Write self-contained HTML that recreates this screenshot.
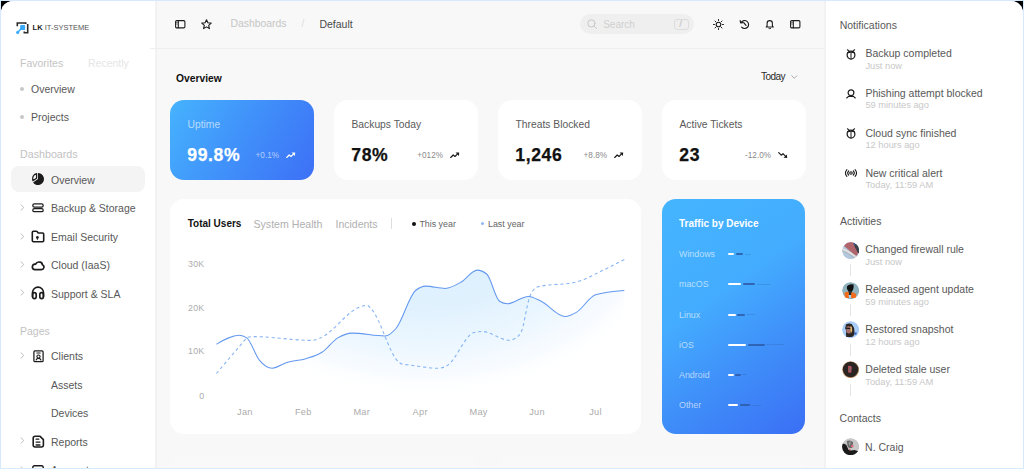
<!DOCTYPE html>
<html><head><meta charset="utf-8"><style>
html,body{margin:0;padding:0;width:1024px;height:469px;overflow:hidden;background:#d5eafc;}
body{position:relative;font-family:"Liberation Sans",sans-serif;}
#frame{position:absolute;left:1px;top:1px;width:1022px;height:467px;background:#000;overflow:hidden;}
#page{position:absolute;left:0;top:0;width:1022px;height:467px;background:#fff;border-radius:12px 12px 0 0;overflow:hidden;}
.t{position:absolute;white-space:nowrap;}
.i{position:absolute;overflow:visible;}
.card{position:absolute;border-radius:14px;background:#fff;}
</style></head><body>
<div id="frame"><div id="page">
<div style="position:absolute;left:-1px;top:-1px;width:1024px;height:469px;">
<div style="position:absolute;left:0;top:0;width:155px;height:469px;background:#fff;"></div>
<div style="position:absolute;left:155px;top:0;width:670px;height:469px;background:#f8f8f8;border-left:2px solid #f2f2f2;box-sizing:border-box;"></div>
<div style="position:absolute;left:150px;top:48px;width:675px;height:1px;background:#eeeeee;"></div>
<div style="position:absolute;left:823.5px;top:0;width:200.5px;height:469px;background:#fff;border-left:2px solid #f2f2f2;box-sizing:border-box;"></div>
<svg class="i" style="left:16px;top:22px;" width="13" height="12" viewBox="0 0 13 12" fill="none" stroke="#1c1c1c" stroke-width="1.2" stroke-linecap="round" stroke-linejoin="round"><path d="M1.3,4.2 V1 H9.7 V2" stroke="#2b2b2b" stroke-width="1.6" stroke-linecap="butt" stroke-linejoin="miter"/><path d="M11.7,2 V10.8 H8.3 V9.6" stroke="#2b2b2b" stroke-width="1.6" stroke-linecap="butt" stroke-linejoin="miter"/><rect x="4.2" y="3" width="4.9" height="4.9" rx="0.7" fill="#3aa8fb" stroke="none"/><path d="M1.7,10.4 L5.2,6.6" stroke="#3aa8fb" stroke-width="1.5"/><circle cx="1.7" cy="10.4" r="1.55" fill="#3aa8fb" stroke="none"/></svg>
<div class="t" style="left:32.6px;top:23.0px;font-size:7.5px;line-height:10px;color:#555;font-weight:400;"><b style="color:#222">LK</b> IT-SYSTEME</div>
<div class="t" style="left:20px;top:56.0px;font-size:10.5px;line-height:14px;color:#c4c4c4;font-weight:400;">Favorites</div>
<div class="t" style="left:88px;top:56.0px;font-size:10.5px;line-height:14px;color:#e6e6e6;font-weight:400;">Recently</div>
<div style="position:absolute;left:20px;top:86.5px;width:4px;height:4px;border-radius:50%;background:#c8c8c8"></div>
<div class="t" style="left:31px;top:81.6px;font-size:10.5px;line-height:14px;color:#585858;font-weight:400;">Overview</div>
<div style="position:absolute;left:20px;top:115px;width:4px;height:4px;border-radius:50%;background:#c8c8c8"></div>
<div class="t" style="left:31px;top:110.0px;font-size:10.5px;line-height:14px;color:#585858;font-weight:400;">Projects</div>
<div class="t" style="left:20px;top:147.0px;font-size:10.7px;line-height:14px;color:#c2c2c2;font-weight:400;">Dashboards</div>
<div style="position:absolute;left:11px;top:166.3px;width:134px;height:25.8px;border-radius:8px;background:#f4f4f4"></div>
<svg class="i" style="left:32px;top:173.3px;" width="12" height="12" viewBox="0 0 12 12" fill="none" stroke="#1c1c1c" stroke-width="1.2" stroke-linecap="round" stroke-linejoin="round"><path d="M6,6 L6,0 A6,6 0 1 1 1.1,9.45 Z" fill="#1c1c1c" stroke="none"/><path d="M4.6,5.2 L0.9,7.6 A5.3,5.3 0 0 1 4.6,0.6 Z" fill="#f4f4f4" stroke="#1c1c1c" stroke-width="1.3"/></svg>
<div class="t" style="left:51px;top:172.5px;font-size:10.5px;line-height:14px;color:#585858;font-weight:400;">Overview</div>
<svg class="i" style="left:20px;top:203.9px;" width="5" height="7" viewBox="0 0 5 7" fill="none" stroke="#1c1c1c" stroke-width="1.2" stroke-linecap="round" stroke-linejoin="round"><path d="M1,0.8 L3.8,3.5 L1,6.2" stroke="#bababa" stroke-width="0.95"/></svg>
<svg class="i" style="left:32px;top:203.2px;" width="12" height="10" viewBox="0 0 12 10" fill="none" stroke="#1c1c1c" stroke-width="1.2" stroke-linecap="round" stroke-linejoin="round"><rect x="0.8" y="0.9" width="10.4" height="3.1" rx="1.55" stroke-width="1.25"/><rect x="0.8" y="5.6" width="10.4" height="3.1" rx="1.55" stroke-width="1.25"/></svg>
<div class="t" style="left:51px;top:201.2px;font-size:10.5px;line-height:14px;color:#585858;font-weight:400;">Backup &amp; Storage</div>
<svg class="i" style="left:20px;top:232.9px;" width="5" height="7" viewBox="0 0 5 7" fill="none" stroke="#1c1c1c" stroke-width="1.2" stroke-linecap="round" stroke-linejoin="round"><path d="M1,0.8 L3.8,3.5 L1,6.2" stroke="#bababa" stroke-width="0.95"/></svg>
<svg class="i" style="left:31px;top:229.5px;" width="14" height="12.5" viewBox="0 0 14 12.5" fill="none" stroke="#1c1c1c" stroke-width="1.2" stroke-linecap="round" stroke-linejoin="round"><path d="M1.3,2.4 Q1.3,1.2 2.5,1.2 H5.2 Q5.8,1.2 6.3,1.8 L7.2,3 H11.6 Q12.7,3 12.7,4.1 V10.6 Q12.7,11.7 11.6,11.7 H2.4 Q1.3,11.7 1.3,10.6 Z" stroke-width="1.6"/><circle cx="6.4" cy="7.4" r="1.35" fill="#1c1c1c" stroke="none"/><path d="M6.4,7.6 V9.3" stroke-width="1.1"/></svg>
<div class="t" style="left:51px;top:230.0px;font-size:10.5px;line-height:14px;color:#585858;font-weight:400;">Email Security</div>
<svg class="i" style="left:20px;top:260.9px;" width="5" height="7" viewBox="0 0 5 7" fill="none" stroke="#1c1c1c" stroke-width="1.2" stroke-linecap="round" stroke-linejoin="round"><path d="M1,0.8 L3.8,3.5 L1,6.2" stroke="#bababa" stroke-width="0.95"/></svg>
<svg class="i" style="left:31px;top:258.6px;" width="14" height="11.8" viewBox="0 0 14 11.8" fill="none" stroke="#1c1c1c" stroke-width="1.2" stroke-linecap="round" stroke-linejoin="round"><path d="M3.6,10.6 H10.4 A2.5,2.5 0 0 0 11.4,5.8 A3.6,3.6 0 0 0 4.6,5.2 A2.7,2.7 0 0 0 3.6,10.6 Z" stroke-width="1.65"/><path d="M8.8,3.2 A1.6,1.6 0 0 1 11.2,4.6" stroke-width="1.1"/></svg>
<div class="t" style="left:51px;top:258.0px;font-size:10.5px;line-height:14px;color:#585858;font-weight:400;">Cloud (IaaS)</div>
<svg class="i" style="left:20px;top:289.4px;" width="5" height="7" viewBox="0 0 5 7" fill="none" stroke="#1c1c1c" stroke-width="1.2" stroke-linecap="round" stroke-linejoin="round"><path d="M1,0.8 L3.8,3.5 L1,6.2" stroke="#bababa" stroke-width="0.95"/></svg>
<svg class="i" style="left:31px;top:286.3px;" width="14" height="13.5" viewBox="0 0 14 13.5" fill="none" stroke="#1c1c1c" stroke-width="1.2" stroke-linecap="round" stroke-linejoin="round"><path d="M1.5,10.5 V6.6 A5.5,5.5 0 0 1 12.5,6.6 V10.5" stroke-width="1.65"/><rect x="1.6" y="6.6" width="3.6" height="6" rx="1.8" stroke-width="1.65"/><rect x="8.8" y="6.6" width="3.6" height="6" rx="1.8" stroke-width="1.65"/></svg>
<div class="t" style="left:51px;top:286.5px;font-size:10.5px;line-height:14px;color:#585858;font-weight:400;">Support &amp; SLA</div>
<div class="t" style="left:20px;top:324.0px;font-size:10.5px;line-height:14px;color:#c2c2c2;font-weight:400;">Pages</div>
<svg class="i" style="left:20px;top:351.9px;" width="5" height="7" viewBox="0 0 5 7" fill="none" stroke="#1c1c1c" stroke-width="1.2" stroke-linecap="round" stroke-linejoin="round"><path d="M1,0.8 L3.8,3.5 L1,6.2" stroke="#bababa" stroke-width="0.95"/></svg>
<svg class="i" style="left:32.5px;top:349.5px;" width="11" height="12.5" viewBox="0 0 11 12.5" fill="none" stroke="#1c1c1c" stroke-width="1.2" stroke-linecap="round" stroke-linejoin="round"><rect x="0.9" y="0.9" width="9.2" height="10.8" rx="1" stroke-width="1.25"/><circle cx="5.5" cy="6.6" r="1.6" stroke-width="1.1"/><path d="M3.1,10 Q3.6,8.4 5.5,8.4 Q7.4,8.4 7.9,10" stroke-width="1.1"/><path d="M3.8,3 H7.2" stroke-width="1.1"/></svg>
<div class="t" style="left:51px;top:349.0px;font-size:10.5px;line-height:14px;color:#585858;font-weight:400;">Clients</div>
<div class="t" style="left:51px;top:377.5px;font-size:10.5px;line-height:14px;color:#585858;font-weight:400;">Assets</div>
<div class="t" style="left:51px;top:406.0px;font-size:10.5px;line-height:14px;color:#585858;font-weight:400;">Devices</div>
<svg class="i" style="left:20px;top:437.4px;" width="5" height="7" viewBox="0 0 5 7" fill="none" stroke="#1c1c1c" stroke-width="1.2" stroke-linecap="round" stroke-linejoin="round"><path d="M1,0.8 L3.8,3.5 L1,6.2" stroke="#bababa" stroke-width="0.95"/></svg>
<svg class="i" style="left:31.8px;top:434.6px;" width="12.6" height="13.2" viewBox="0 0 12.6 13.2" fill="none" stroke="#1c1c1c" stroke-width="1.2" stroke-linecap="round" stroke-linejoin="round"><path d="M1.2,3.2 Q1.2,1.2 3.2,1.2 H7.8 L11.4,4.6 V10 Q11.4,12 9.4,12 H3.2 Q1.2,12 1.2,10 Z" stroke-width="1.6"/><path d="M4.1,4.2 H6.8 M4.1,7.1 H8 M4.1,10 H8" stroke-width="1.3"/></svg>
<div class="t" style="left:51px;top:434.5px;font-size:10.5px;line-height:14px;color:#585858;font-weight:400;">Reports</div>
<svg class="i" style="left:20px;top:465.9px;" width="5" height="7" viewBox="0 0 5 7" fill="none" stroke="#1c1c1c" stroke-width="1.2" stroke-linecap="round" stroke-linejoin="round"><path d="M1,0.8 L3.8,3.5 L1,6.2" stroke="#bababa" stroke-width="0.95"/></svg>
<svg class="i" style="left:32px;top:464.5px;" width="12" height="12" viewBox="0 0 12 12" fill="none" stroke="#1c1c1c" stroke-width="1.2" stroke-linecap="round" stroke-linejoin="round"><rect x="0.8" y="0.8" width="10.4" height="10.4" rx="1.5" stroke-width="1.4"/><path d="M3.5,3.5 H6" stroke-width="1"/></svg>
<div class="t" style="left:51px;top:463.0px;font-size:10.5px;line-height:14px;color:#585858;font-weight:400;">Accounts</div>
<svg class="i" style="left:175px;top:20px;" width="10.5" height="8.5" viewBox="0 0 10.5 8.5" fill="none" stroke="#1c1c1c" stroke-width="1.2" stroke-linecap="round" stroke-linejoin="round"><rect x="0.6" y="0.6" width="9.3" height="7.3" rx="1.2" stroke-width="1.1"/><path d="M3.3,0.8 V7.7" stroke-width="1.1"/><path d="M1.6,2.5 H2.3 M1.6,4 H2.3" stroke-width="0.6"/></svg>
<svg class="i" style="left:200.5px;top:19px;" width="11" height="10.5" viewBox="0 0 11 10.5" fill="none" stroke="#1c1c1c" stroke-width="1.2" stroke-linecap="round" stroke-linejoin="round"><path d="M5.5,0.8 L6.9,3.8 L10.2,4.1 L7.7,6.3 L8.4,9.6 L5.5,7.9 L2.6,9.6 L3.3,6.3 L0.8,4.1 L4.1,3.8 Z" stroke-width="1.1"/></svg>
<div class="t" style="left:230.5px;top:17.4px;font-size:10.4px;line-height:14px;color:#c6c6c6;font-weight:400;">Dashboards</div>
<div class="t" style="left:301.5px;top:17.4px;font-size:10px;line-height:14px;color:#dedede;font-weight:400;">/</div>
<div class="t" style="left:319.4px;top:17.3px;font-size:10.5px;line-height:14px;color:#4a4a4a;font-weight:400;">Default</div>
<div style="position:absolute;left:580px;top:14px;width:114px;height:20px;border-radius:10px;background:#efefef"></div>
<svg class="i" style="left:586.5px;top:19px;" width="10.5" height="10" viewBox="0 0 10.5 10" fill="none" stroke="#1c1c1c" stroke-width="1.2" stroke-linecap="round" stroke-linejoin="round"><circle cx="4.4" cy="4.4" r="3.6" stroke="#c8c8c8" stroke-width="1"/><path d="M7,7 L9.5,9.5" stroke="#c8c8c8" stroke-width="1"/></svg>
<div class="t" style="left:603.2px;top:17.8px;font-size:10px;line-height:14px;color:#cfcfcf;font-weight:400;">Search</div>
<div style="position:absolute;left:674px;top:18.5px;width:14.5px;height:11px;border-radius:3px;border:1px solid #dcdcdc;box-sizing:border-box"></div>
<div class="t" style="left:679.3px;top:19.4px;font-size:9.5px;line-height:10px;color:#bdbdbd;font-weight:400;">/</div>
<svg class="i" style="left:713px;top:18.5px;" width="11" height="11" viewBox="0 0 11 11" fill="none" stroke="#1c1c1c" stroke-width="1.2" stroke-linecap="round" stroke-linejoin="round"><circle cx="5.5" cy="5.5" r="2.3" stroke-width="1.1"/><path d="M5.5,0.5 V1.5 M5.5,9.5 V10.5 M0.5,5.5 H1.5 M9.5,5.5 H10.5 M2,2 L2.7,2.7 M8.3,8.3 L9,9 M2,9 L2.7,8.3 M8.3,2.7 L9,2" stroke-width="1"/></svg>
<svg class="i" style="left:739px;top:19px;" width="11" height="10.5" viewBox="0 0 11 10.5" fill="none" stroke="#1c1c1c" stroke-width="1.2" stroke-linecap="round" stroke-linejoin="round"><path d="M2.2,3.4 A4,4 0 1 1 2.6,8.2" stroke-width="1.15"/><path d="M1.2,1.6 L1.6,3.9 L3.9,3.6" stroke-width="1.15"/><path d="M4.7,3.6 L7,6.4" stroke-width="1.2"/></svg>
<svg class="i" style="left:765px;top:18.5px;" width="9.5" height="10.5" viewBox="0 0 9.5 10.5" fill="none" stroke="#1c1c1c" stroke-width="1.2" stroke-linecap="round" stroke-linejoin="round"><path d="M1.2,8 H8.3 L7.4,6.8 V4.3 A2.65,2.65 0 0 0 2.1,4.3 V6.8 Z" stroke-width="1.1"/><path d="M3.8,9.4 Q4.75,10.3 5.7,9.4" stroke-width="1"/></svg>
<svg class="i" style="left:790px;top:20px;" width="10.5" height="8.5" viewBox="0 0 10.5 8.5" fill="none" stroke="#1c1c1c" stroke-width="1.2" stroke-linecap="round" stroke-linejoin="round"><rect x="0.6" y="0.6" width="9.3" height="7.3" rx="1.2" stroke-width="1.1"/><path d="M3.3,0.8 V7.7" stroke-width="1.1"/><path d="M1.6,2.5 H2.3 M1.6,4 H2.3" stroke-width="0.6"/></svg>
<div class="t" style="left:176px;top:72.2px;font-size:10.3px;line-height:14px;color:#111;font-weight:700;">Overview</div>
<div class="t" style="left:761px;top:69.6px;font-size:10px;line-height:14px;color:#2a2a2a;font-weight:400;letter-spacing:-0.55px">Today</div>
<svg class="i" style="left:790.5px;top:75px;" width="7" height="4.5" viewBox="0 0 7 4.5" fill="none" stroke="#1c1c1c" stroke-width="1.2" stroke-linecap="round" stroke-linejoin="round"><path d="M0.8,0.8 L3.3,3.3 L5.8,0.8" stroke="#a8a8a8" stroke-width="0.95"/></svg>
<div class="card" style="left:170px;top:100px;width:143.5px;height:80px;background:linear-gradient(120deg,#46b3fd 0%,#4090fa 50%,#3d70f6 100%)"></div>
<div class="t" style="left:187.5px;top:117.8px;font-size:10.3px;line-height:14px;color:rgba(255,255,255,0.62);font-weight:400;">Uptime</div>
<div class="t" style="left:187.3px;top:145.3px;font-size:17.6px;line-height:20px;color:#fff;font-weight:700;letter-spacing:0.6px;-webkit-text-stroke:0.25px #fff">99.8%</div>
<div class="t" style="right:745px;top:150.5px;font-size:8.2px;line-height:10px;color:rgba(255,255,255,0.6);font-weight:400;">+0.1%</div>
<svg class="i" style="left:286px;top:152px;" width="9.5" height="6.2" viewBox="0 0 9.5 6.2" fill="none" stroke="#1c1c1c" stroke-width="1.2" stroke-linecap="round" stroke-linejoin="round"><path d="M0.7,5.5 L3.2,3 L5,4.5 L7.6,1.9" stroke="#fff" stroke-width="1.2"/><path d="M5.6,0.6 L9.2,0.4 L8.9,3.9 Z" fill="#fff" stroke="none"/></svg>
<div class="card" style="left:334px;top:100px;width:143.5px;height:80px;"></div>
<div class="t" style="left:351.5px;top:117.8px;font-size:10.3px;line-height:14px;color:#5a5a5a;font-weight:400;">Backups Today</div>
<div class="t" style="left:351.3px;top:145.3px;font-size:17.6px;line-height:20px;color:#111;font-weight:700;letter-spacing:0.6px;-webkit-text-stroke:0.25px #111">78%</div>
<div class="t" style="right:581px;top:150.5px;font-size:8.2px;line-height:10px;color:#8a8a8a;font-weight:400;">+012%</div>
<svg class="i" style="left:450px;top:152px;" width="9.5" height="6.2" viewBox="0 0 9.5 6.2" fill="none" stroke="#1c1c1c" stroke-width="1.2" stroke-linecap="round" stroke-linejoin="round"><path d="M0.7,5.5 L3.2,3 L5,4.5 L7.6,1.9" stroke="#1c1c1c" stroke-width="1.2"/><path d="M5.6,0.6 L9.2,0.4 L8.9,3.9 Z" fill="#1c1c1c" stroke="none"/></svg>
<div class="card" style="left:498px;top:100px;width:143.5px;height:80px;"></div>
<div class="t" style="left:515.5px;top:117.8px;font-size:10.3px;line-height:14px;color:#5a5a5a;font-weight:400;">Threats Blocked</div>
<div class="t" style="left:515.3px;top:145.3px;font-size:17.6px;line-height:20px;color:#111;font-weight:700;letter-spacing:0.6px;-webkit-text-stroke:0.25px #111">1,246</div>
<div class="t" style="right:417px;top:150.5px;font-size:8.2px;line-height:10px;color:#8a8a8a;font-weight:400;">+8.8%</div>
<svg class="i" style="left:614px;top:152px;" width="9.5" height="6.2" viewBox="0 0 9.5 6.2" fill="none" stroke="#1c1c1c" stroke-width="1.2" stroke-linecap="round" stroke-linejoin="round"><path d="M0.7,5.5 L3.2,3 L5,4.5 L7.6,1.9" stroke="#1c1c1c" stroke-width="1.2"/><path d="M5.6,0.6 L9.2,0.4 L8.9,3.9 Z" fill="#1c1c1c" stroke="none"/></svg>
<div class="card" style="left:662px;top:100px;width:143.5px;height:80px;"></div>
<div class="t" style="left:679.5px;top:117.8px;font-size:10.3px;line-height:14px;color:#5a5a5a;font-weight:400;">Active Tickets</div>
<div class="t" style="left:679.3px;top:145.3px;font-size:17.6px;line-height:20px;color:#111;font-weight:700;letter-spacing:0.6px;-webkit-text-stroke:0.25px #111">23</div>
<div class="t" style="right:253px;top:150.5px;font-size:8.2px;line-height:10px;color:#8a8a8a;font-weight:400;">-12.0%</div>
<svg class="i" style="left:777.5px;top:152px;" width="10" height="6.5" viewBox="0 0 10 6.5" fill="none" stroke="#1c1c1c" stroke-width="1.2" stroke-linecap="round" stroke-linejoin="round"><path d="M0.7,0.7 L3.2,3.2 L5,1.7 L7.6,4.3" stroke="#1c1c1c" stroke-width="1.2"/><path d="M5.6,5.7 L9.2,5.9 L8.9,2.4 Z" fill="#1c1c1c" stroke="none"/></svg>
<div class="card" style="left:170px;top:199px;width:471px;height:235px;"></div>
<div class="t" style="left:187.7px;top:216.5px;font-size:10px;line-height:14px;color:#111;font-weight:700;">Total Users</div>
<div class="t" style="left:253.5px;top:216.5px;font-size:10.6px;line-height:14px;color:#b0b0b0;font-weight:400;">System Health</div>
<div class="t" style="left:335.5px;top:216.5px;font-size:10.5px;line-height:14px;color:#b0b0b0;font-weight:400;">Incidents</div>
<div style="position:absolute;left:391px;top:218px;width:1px;height:11px;background:#dedede"></div>
<div style="position:absolute;left:411.5px;top:221.5px;width:4px;height:4px;border-radius:50%;background:#111"></div>
<div class="t" style="left:419.4px;top:216.5px;font-size:8.9px;line-height:14px;color:#666;font-weight:400;">This year</div>
<div style="position:absolute;left:480.8px;top:221.8px;width:3.5px;height:3.5px;border-radius:50%;background:#8cb8f5"></div>
<div class="t" style="left:488px;top:216.5px;font-size:8.9px;line-height:14px;color:#666;font-weight:400;">Last year</div>
<div class="t" style="right:819.6px;top:259.0px;font-size:8.9px;line-height:10px;color:#acacac;font-weight:400;letter-spacing:0.2px">30K</div>
<div class="t" style="right:819.6px;top:302.7px;font-size:8.9px;line-height:10px;color:#acacac;font-weight:400;letter-spacing:0.2px">20K</div>
<div class="t" style="right:819.6px;top:346.4px;font-size:8.9px;line-height:10px;color:#acacac;font-weight:400;letter-spacing:0.2px">10K</div>
<div class="t" style="right:819.6px;top:390.5px;font-size:8.9px;line-height:10px;color:#acacac;font-weight:400;letter-spacing:0.2px">0</div>
<div class="t" style="left:224.9px;width:40px;text-align:center;top:407.3px;font-size:9.2px;line-height:10px;color:#acacac;font-weight:400;letter-spacing:0.3px">Jan</div>
<div class="t" style="left:283.33px;width:40px;text-align:center;top:407.3px;font-size:9.2px;line-height:10px;color:#acacac;font-weight:400;letter-spacing:0.3px">Feb</div>
<div class="t" style="left:341.76px;width:40px;text-align:center;top:407.3px;font-size:9.2px;line-height:10px;color:#acacac;font-weight:400;letter-spacing:0.3px">Mar</div>
<div class="t" style="left:400.19px;width:40px;text-align:center;top:407.3px;font-size:9.2px;line-height:10px;color:#acacac;font-weight:400;letter-spacing:0.3px">Apr</div>
<div class="t" style="left:458.62px;width:40px;text-align:center;top:407.3px;font-size:9.2px;line-height:10px;color:#acacac;font-weight:400;letter-spacing:0.3px">May</div>
<div class="t" style="left:517.05px;width:40px;text-align:center;top:407.3px;font-size:9.2px;line-height:10px;color:#acacac;font-weight:400;letter-spacing:0.3px">Jun</div>
<div class="t" style="left:575.48px;width:40px;text-align:center;top:407.3px;font-size:9.2px;line-height:10px;color:#acacac;font-weight:400;letter-spacing:0.3px">Jul</div>
<svg class="i" style="left:0;top:0" width="1024" height="469" viewBox="0 0 1024 469">
<defs>
<radialGradient id="fg" cx="425" cy="222" r="250" gradientUnits="userSpaceOnUse" gradientTransform="translate(425 222) scale(1 0.7) translate(-425 -222)">
<stop offset="0" stop-color="#d8eefe" stop-opacity="1"/>
<stop offset="0.5" stop-color="#dff1fe" stop-opacity="0.95"/>
<stop offset="0.72" stop-color="#e8f5ff" stop-opacity="0.8"/>
<stop offset="0.88" stop-color="#f1f8ff" stop-opacity="0.5"/>
<stop offset="1" stop-color="#ffffff" stop-opacity="0"/>
</radialGradient>
</defs>
<path d="M216.4,344.3 C224.1,339.8 231.7,335.3 239.4,335.3 C241.9,335.3 244.3,336.2 246.8,337.9 C251.0,340.9 255.3,355.3 259.5,360.3 C263.8,365.4 268.0,368.2 272.3,368.2 C277.1,368.2 281.9,364.0 286.7,362.5 C293.1,360.5 299.5,360.7 305.9,358.7 C311.2,357.1 316.6,355.8 321.9,352.3 C327.2,348.8 332.5,341.1 337.8,337.9 C342.6,335.0 347.4,333.1 352.2,333.1 C363.1,333.1 374.1,336.0 385.0,336.0 C388.7,336.0 392.3,332.7 396.0,328.5 C402.5,321.1 409.0,295.9 415.5,290.5 C419.0,287.6 422.5,286.1 426.0,286.1 C432.4,286.1 438.8,288.4 445.2,288.4 C450.5,288.4 455.9,285.1 461.2,282.0 C466.5,278.9 471.9,270.1 477.2,270.1 C480.4,270.1 483.5,271.4 486.7,274.0 C491.0,277.5 495.2,298.5 499.5,301.2 C502.2,302.9 504.8,303.7 507.5,303.7 C514.4,303.7 521.4,296.4 528.3,296.4 C532.6,296.4 536.8,299.2 541.1,301.2 C549.1,304.9 557.1,316.5 565.1,316.5 C568.8,316.5 572.6,314.5 576.3,312.4 C582.7,308.8 589.1,296.7 595.5,294.8 C605.1,292.0 614.7,291.3 624.3,290.6 L624.3,400 L216.4,400 Z" fill="url(#fg)" stroke="none"/>
<path d="M216.4,373.5 L247,337.4 L247.0,337.4 C249.0,337.0 251.1,336.6 253.1,336.6 C272.8,336.6 292.6,340.4 312.3,340.4 C315.0,340.4 317.6,338.9 320.3,337.9 C333.6,332.7 346.9,311.0 360.2,306.9 C362.5,306.2 364.9,305.3 367.2,305.3 C368.6,305.3 370.0,307.6 371.4,309.1 C380.5,318.6 389.5,354.7 398.6,361.9 C399.7,362.7 400.7,363.7 401.8,364.0 C404.5,364.7 407.3,364.7 410.0,365.1 C419.6,366.3 429.2,368.3 438.8,368.3 C441.5,368.3 444.1,367.2 446.8,365.8 C455.9,361.1 464.9,334.8 474.0,332.5 C476.7,331.8 479.3,331.5 482.0,331.5 C491.0,331.5 500.1,340.2 509.1,340.2 C512.8,340.2 516.6,338.1 520.3,333.8 C523.5,330.1 526.7,304.1 529.9,296.4 C532.6,290.0 535.2,287.5 537.9,286.8 C550.7,283.6 563.5,285.2 576.3,282.0 C584.8,279.9 593.4,274.8 601.9,270.8 C609.4,267.3 616.8,263.4 624.3,259.6" fill="none" stroke="#88b5f4" stroke-width="1.1" stroke-dasharray="3.2 2.8"/>
<path d="M216.4,344.3 C224.1,339.8 231.7,335.3 239.4,335.3 C241.9,335.3 244.3,336.2 246.8,337.9 C251.0,340.9 255.3,355.3 259.5,360.3 C263.8,365.4 268.0,368.2 272.3,368.2 C277.1,368.2 281.9,364.0 286.7,362.5 C293.1,360.5 299.5,360.7 305.9,358.7 C311.2,357.1 316.6,355.8 321.9,352.3 C327.2,348.8 332.5,341.1 337.8,337.9 C342.6,335.0 347.4,333.1 352.2,333.1 C363.1,333.1 374.1,336.0 385.0,336.0 C388.7,336.0 392.3,332.7 396.0,328.5 C402.5,321.1 409.0,295.9 415.5,290.5 C419.0,287.6 422.5,286.1 426.0,286.1 C432.4,286.1 438.8,288.4 445.2,288.4 C450.5,288.4 455.9,285.1 461.2,282.0 C466.5,278.9 471.9,270.1 477.2,270.1 C480.4,270.1 483.5,271.4 486.7,274.0 C491.0,277.5 495.2,298.5 499.5,301.2 C502.2,302.9 504.8,303.7 507.5,303.7 C514.4,303.7 521.4,296.4 528.3,296.4 C532.6,296.4 536.8,299.2 541.1,301.2 C549.1,304.9 557.1,316.5 565.1,316.5 C568.8,316.5 572.6,314.5 576.3,312.4 C582.7,308.8 589.1,296.7 595.5,294.8 C605.1,292.0 614.7,291.3 624.3,290.6" fill="none" stroke="#6398ef" stroke-width="1.05"/>
</svg>
<div class="card" style="left:662px;top:199px;width:143px;height:235px;background:linear-gradient(145deg,#45b5ff 0%,#44acfe 40%,#3f8ef9 68%,#3b6ff5 100%)"></div>
<div class="t" style="left:679px;top:216.8px;font-size:10px;line-height:14px;color:#fff;font-weight:700;">Traffic by Device</div>
<div class="t" style="left:679px;top:247.1px;font-size:8.9px;line-height:14px;color:rgba(255,255,255,0.62);font-weight:400;">Windows</div>
<div style="position:absolute;left:728px;top:253.1px;width:6.4px;height:2px;border-radius:1px;background:#fff"></div>
<div style="position:absolute;left:736px;top:253.1px;width:6.5px;height:2px;border-radius:1px;background:#2d5aa8;opacity:0.85"></div>
<div style="position:absolute;left:745px;top:253.6px;width:6.0px;height:1px;background:rgba(40,80,150,0.22)"></div>
<div class="t" style="left:679px;top:277.3px;font-size:8.9px;line-height:14px;color:rgba(255,255,255,0.62);font-weight:400;">macOS</div>
<div style="position:absolute;left:728px;top:283.3px;width:12.8px;height:2px;border-radius:1px;background:#fff"></div>
<div style="position:absolute;left:742.5px;top:283.3px;width:12.8px;height:2px;border-radius:1px;background:#2d5aa8;opacity:0.85"></div>
<div style="position:absolute;left:757px;top:283.8px;width:12.8px;height:1px;background:rgba(40,80,150,0.22)"></div>
<div class="t" style="left:679px;top:307.5px;font-size:8.9px;line-height:14px;color:rgba(255,255,255,0.62);font-weight:400;">Linux</div>
<div style="position:absolute;left:727.5px;top:313.5px;width:8.7px;height:2px;border-radius:1px;background:#fff"></div>
<div style="position:absolute;left:737.4px;top:313.5px;width:8.0px;height:2px;border-radius:1px;background:#2d5aa8;opacity:0.85"></div>
<div style="position:absolute;left:747px;top:314.0px;width:8.0px;height:1px;background:rgba(40,80,150,0.22)"></div>
<div class="t" style="left:679px;top:337.8px;font-size:8.9px;line-height:14px;color:rgba(255,255,255,0.62);font-weight:400;">iOS</div>
<div style="position:absolute;left:727.5px;top:343.8px;width:18.5px;height:2px;border-radius:1px;background:#fff"></div>
<div style="position:absolute;left:747.5px;top:343.8px;width:17.4px;height:2px;border-radius:1px;background:#2d5aa8;opacity:0.85"></div>
<div style="position:absolute;left:766.3px;top:344.3px;width:18.0px;height:1px;background:rgba(40,80,150,0.22)"></div>
<div class="t" style="left:679px;top:367.8px;font-size:8.9px;line-height:14px;color:rgba(255,255,255,0.62);font-weight:400;">Android</div>
<div style="position:absolute;left:727.5px;top:373.8px;width:6.0px;height:2px;border-radius:1px;background:#fff"></div>
<div style="position:absolute;left:735px;top:373.8px;width:5.7px;height:2px;border-radius:1px;background:#2d5aa8;opacity:0.85"></div>
<div style="position:absolute;left:742.2px;top:374.3px;width:5.3px;height:1px;background:rgba(40,80,150,0.22)"></div>
<div class="t" style="left:679px;top:398.0px;font-size:8.9px;line-height:14px;color:rgba(255,255,255,0.62);font-weight:400;">Other</div>
<div style="position:absolute;left:727.5px;top:404px;width:10.2px;height:2px;border-radius:1px;background:#fff"></div>
<div style="position:absolute;left:739.5px;top:404px;width:10.1px;height:2px;border-radius:1px;background:#2d5aa8;opacity:0.85"></div>
<div style="position:absolute;left:751px;top:404.5px;width:10.0px;height:1px;background:rgba(40,80,150,0.22)"></div>
<div class="card" style="left:170px;top:455px;width:307px;height:40px;background:#f9f9f9"></div>
<div class="card" style="left:498px;top:455px;width:306px;height:40px;background:#f9f9f9"></div>
<div class="t" style="left:839.7px;top:17.8px;font-size:10.5px;line-height:14px;color:#585858;font-weight:400;">Notifications</div>
<div class="t" style="left:865.4px;top:46.0px;font-size:10.5px;line-height:14px;color:#585858;font-weight:400;">Backup completed</div>
<div class="t" style="left:865.4px;top:58.7px;font-size:9.3px;line-height:14px;color:#c8c8c8;font-weight:400;">Just now</div>
<svg class="i" style="left:845.8px;top:48.5px;" width="10" height="11" viewBox="0 0 10 11" fill="none" stroke="#1c1c1c" stroke-width="1.2" stroke-linecap="round" stroke-linejoin="round"><ellipse cx="5" cy="6.1" rx="3.9" ry="4" stroke-width="1.25"/><path d="M1.8,3.7 Q5,2.6 8.2,3.7" stroke-width="1.3"/><path d="M5,4 V9.8" stroke-width="1"/><path d="M1.4,0.8 L2.8,1.9 M8.6,0.8 L7.2,1.9" stroke-width="1.1"/></svg>
<div class="t" style="left:865.4px;top:85.8px;font-size:10.5px;line-height:14px;color:#585858;font-weight:400;">Phishing attempt blocked</div>
<div class="t" style="left:865.4px;top:98.3px;font-size:9.3px;line-height:14px;color:#c8c8c8;font-weight:400;">59 minutes ago</div>
<svg class="i" style="left:845.8px;top:88.8px;" width="10" height="10" viewBox="0 0 10 10" fill="none" stroke="#1c1c1c" stroke-width="1.2" stroke-linecap="round" stroke-linejoin="round"><circle cx="5" cy="3.8" r="2.9" stroke-width="1.2"/><path d="M0.7,9 L2.6,7.4 H7.4 L9.3,9" stroke-width="1.15"/></svg>
<div class="t" style="left:865.4px;top:125.8px;font-size:10.5px;line-height:14px;color:#585858;font-weight:400;">Cloud sync finished</div>
<div class="t" style="left:865.4px;top:138.4px;font-size:9.3px;line-height:14px;color:#c8c8c8;font-weight:400;">12 hours ago</div>
<svg class="i" style="left:845.8px;top:128.3px;" width="10" height="11" viewBox="0 0 10 11" fill="none" stroke="#1c1c1c" stroke-width="1.2" stroke-linecap="round" stroke-linejoin="round"><ellipse cx="5" cy="6.1" rx="3.9" ry="4" stroke-width="1.25"/><path d="M1.8,3.7 Q5,2.6 8.2,3.7" stroke-width="1.3"/><path d="M5,4 V9.8" stroke-width="1"/><path d="M1.4,0.8 L2.8,1.9 M8.6,0.8 L7.2,1.9" stroke-width="1.1"/></svg>
<div class="t" style="left:865.4px;top:165.7px;font-size:10.5px;line-height:14px;color:#585858;font-weight:400;">New critical alert</div>
<div class="t" style="left:865.4px;top:178.4px;font-size:9.3px;line-height:14px;color:#c8c8c8;font-weight:400;">Today, 11:59 AM</div>
<svg class="i" style="left:845px;top:169.39999999999998px;" width="12" height="8" viewBox="0 0 12 8" fill="none" stroke="#1c1c1c" stroke-width="1.2" stroke-linecap="round" stroke-linejoin="round"><circle cx="6" cy="4" r="1.25" stroke-width="1.1"/><path d="M3.7,1.8 A3.2,3.2 0 0 0 3.7,6.2 M8.3,1.8 A3.2,3.2 0 0 1 8.3,6.2 M1.9,0.6 A5.2,5.2 0 0 0 1.9,7.4 M10.1,0.6 A5.2,5.2 0 0 1 10.1,7.4" stroke-width="1.1"/></svg>
<div class="t" style="left:840px;top:214.1px;font-size:10.5px;line-height:14px;color:#585858;font-weight:400;">Activities</div>
<svg style="position:absolute;left:842.10px;top:241.80px" width="17.2" height="17.2" viewBox="44 44 380 380"><defs><clipPath id="ca1"><circle cx="234" cy="234" r="190"/></clipPath></defs><g clip-path="url(#ca1)"><circle cx="234" cy="234" r="190" fill="#b3c7df"/><path d="M90,130 L160,50 L300,40 L410,240 L380,340 L340,345 Z" fill="#b0646c"/><path d="M290,50 L440,130 L440,300 L400,290 L330,160 Z" fill="#3b424b"/><path d="M290,60 L340,80 L320,110 Z" fill="#2d6ad2"/><path d="M40,180 Q160,200 350,350 L330,385 Q150,250 40,225 Z" fill="#e4e0dc"/><path d="M40,225 Q150,250 330,385 L315,410 Q140,275 40,255 Z" fill="#a0a6ae" opacity="0.5"/></g></svg>
<div class="t" style="left:865.3px;top:242.0px;font-size:10.5px;line-height:14px;color:#585858;font-weight:400;">Changed firewall rule</div>
<div class="t" style="left:865.3px;top:255.0px;font-size:9.3px;line-height:14px;color:#c8c8c8;font-weight:400;">Just now</div>
<div style="position:absolute;left:850.2px;top:264.4px;width:1px;height:12px;background:#e4e4e4"></div>
<svg style="position:absolute;left:842.10px;top:281.80px" width="17.2" height="17.2" viewBox="44 44 380 380"><defs><clipPath id="ca2"><circle cx="234" cy="234" r="190"/></clipPath></defs><g clip-path="url(#ca2)"><circle cx="234" cy="234" r="190" fill="#8fb2bc"/><path d="M160,130 Q210,80 300,100 Q310,170 290,210 Q270,260 230,270 Q180,260 160,210 Q140,170 160,130 Z" fill="#111"/><path d="M180,240 L270,240 L260,330 L200,330 Z" fill="#1e2a2e"/><path d="M100,290 Q120,250 190,260 L210,400 L110,400 Z" fill="#f06b1c"/><path d="M250,270 Q330,270 360,320 L350,400 L240,400 Z" fill="#f06b1c"/><path d="M190,330 L245,330 L240,400 L200,400 Z" fill="#a8d4f2"/></g></svg>
<div class="t" style="left:865.3px;top:282.0px;font-size:10.5px;line-height:14px;color:#585858;font-weight:400;">Released agent update</div>
<div class="t" style="left:865.3px;top:295.0px;font-size:9.3px;line-height:14px;color:#c8c8c8;font-weight:400;">59 minutes ago</div>
<div style="position:absolute;left:850.2px;top:304.4px;width:1px;height:12px;background:#e4e4e4"></div>
<svg style="position:absolute;left:842.10px;top:321.30px" width="17.2" height="17.2" viewBox="44 44 380 380"><defs><clipPath id="ca3"><circle cx="234" cy="234" r="190"/></clipPath></defs><g clip-path="url(#ca3)"><circle cx="234" cy="234" r="190" fill="#a9cdf6"/><path d="M130,120 Q200,80 260,110 Q320,180 320,280 Q330,360 260,400 L140,400 Q120,330 140,280 Q100,200 130,120 Z" fill="#2a2626"/><path d="M140,170 Q200,140 240,190 Q250,260 220,320 Q170,330 140,280 Z" fill="#a8706a"/><path d="M120,190 L250,200 L250,225 L120,215 Z" fill="#1a1a1a"/><path d="M225,160 L260,170 L270,260 L240,320 Z" fill="#e8c070"/><path d="M320,300 L370,300 L360,350 L315,345 Z" fill="#2a5cbc"/></g></svg>
<div class="t" style="left:865.3px;top:322.0px;font-size:10.5px;line-height:14px;color:#585858;font-weight:400;">Restored snapshot</div>
<div class="t" style="left:865.3px;top:335.0px;font-size:9.3px;line-height:14px;color:#c8c8c8;font-weight:400;">12 hours ago</div>
<div style="position:absolute;left:850.2px;top:343.9px;width:1px;height:12px;background:#e4e4e4"></div>
<svg style="position:absolute;left:842.10px;top:361.20px" width="17.2" height="17.2" viewBox="44 44 380 380"><defs><clipPath id="ca4"><circle cx="234" cy="234" r="190"/></clipPath></defs><g clip-path="url(#ca4)"><circle cx="234" cy="234" r="190" fill="#c9a070"/><circle cx="234" cy="234" r="172" fill="#2a2423"/><circle cx="234" cy="234" r="181" fill="none" stroke="#b06060" stroke-width="6" stroke-dasharray="20 40"/><path d="M180,150 Q230,140 260,170 L250,300 Q210,310 180,290 Z" fill="#b8505a"/><path d="M200,190 L235,190 L230,280 L200,270 Z" fill="#7a7070"/></g></svg>
<div class="t" style="left:865.3px;top:361.8px;font-size:10.5px;line-height:14px;color:#585858;font-weight:400;">Deleted stale user</div>
<div class="t" style="left:865.3px;top:375.0px;font-size:9.3px;line-height:14px;color:#c8c8c8;font-weight:400;">Today, 11:59 AM</div>
<div style="position:absolute;left:850.2px;top:383.8px;width:1px;height:12px;background:#e4e4e4"></div>
<div class="t" style="left:839.6px;top:410.6px;font-size:10.5px;line-height:14px;color:#585858;font-weight:400;">Contacts</div>
<svg style="position:absolute;left:842.10px;top:438.10px" width="17.2" height="17.2" viewBox="44 44 380 380"><defs><clipPath id="ca5"><circle cx="234" cy="234" r="190"/></clipPath></defs><g clip-path="url(#ca5)"><circle cx="234" cy="234" r="190" fill="#c8c8c8"/><path d="M40,180 Q90,160 140,200 L190,310 Q250,330 320,310 L420,340 L400,420 L40,420 Z" fill="#1a1a1a"/><path d="M150,110 Q230,80 290,140 L270,260 Q210,280 170,240 Z" fill="#6a6a6a"/><path d="M190,130 L240,120 L230,200 L200,210 Z" fill="#9a9a9a"/><path d="M245,200 L300,205 L295,250 L245,245 Z" fill="#e06a76"/><path d="M190,270 L240,300 L220,330 Z" fill="#d86070"/></g></svg>
<div class="t" style="left:865.1px;top:440.4px;font-size:10.5px;line-height:14px;color:#585858;font-weight:400;">N. Craig</div>
</div>
</div></div>
</body></html>
